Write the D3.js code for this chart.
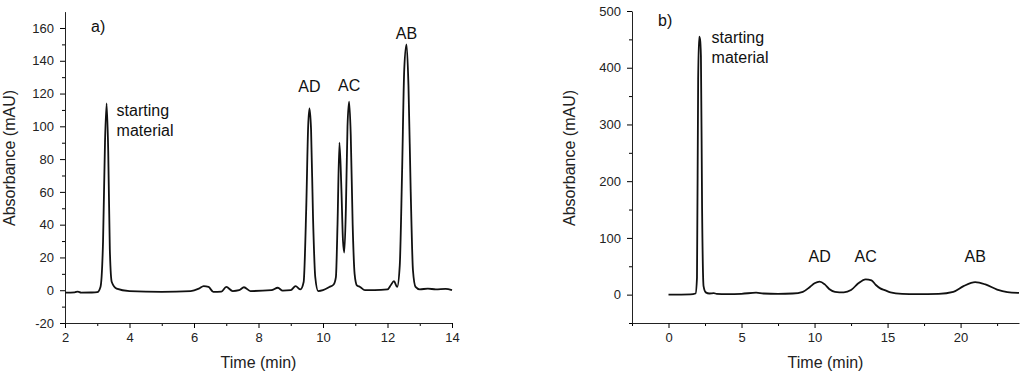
<!DOCTYPE html>
<html>
<head>
<meta charset="utf-8">
<script src="https://cdn.jsdelivr.net/npm/d3@7"></script>
<style>
  body { margin: 0; background: #fff; }
  svg { font-family: "Liberation Sans", Arial, sans-serif; }
  .tick text { font-size: 13px; fill: #222; }
</style>
</head>
<body>
<svg id="chart" width="1024" height="376"></svg>
<script>
// panel a) chromatogram, time (min) and absorbance (mAU)
const timeA = [2.0, 2.3, 2.4, 2.5, 2.8, 3.0, 3.1, 3.18, 3.24, 3.29, 3.34, 3.39, 3.45, 3.6, 4.0, 5.0, 5.9, 6.15, 6.3, 6.45, 6.6, 6.85, 7.0, 7.2, 7.4, 7.55, 7.75, 8.4, 8.6, 8.75, 9.0, 9.15, 9.3, 9.4, 9.48, 9.54, 9.58, 9.63, 9.69, 9.76, 9.85, 10.0, 10.2, 10.33, 10.4, 10.45, 10.51, 10.57, 10.62, 10.66, 10.71, 10.76, 10.81, 10.86, 10.92, 10.98, 11.05, 11.15, 11.3, 11.6, 12.0, 12.1, 12.2, 12.3, 12.38, 12.45, 12.52, 12.59, 12.65, 12.72, 12.79, 12.87, 13.0, 13.25, 13.5, 13.8, 14.0];
const absA  = [-1.5, -1.3, -0.8, -1.5, -1.4, -1.2, 2, 30, 90, 114, 85, 25, 5, 1, -0.5, -1, -0.5, 1, 2.5, 2, -1, -0.8, 2, -0.5, 0, 1.8, -0.5, 0, 1.5, -0.3, 0, 2.5, 0.5, 5, 50, 100, 111, 98, 45, 8, -0.5, 0, 2, 3.5, 8, 40, 90, 62, 30, 23, 50, 100, 115, 95, 40, 10, 3, 2, 0, 0, 0.5, 3, 5.5, 2, 15, 70, 135, 150, 125, 60, 12, 2, 0.5, 1, 0.5, 0.8, 0];

// panel b) chromatogram
const timeB = [0, 1.5, 1.85, 1.95, 2.03, 2.1, 2.16, 2.22, 2.3, 2.4, 2.55, 2.8, 3.1, 3.3, 4.0, 5.0, 6.0, 6.5, 7.5, 8.5, 9.2, 9.7, 10.0, 10.35, 10.7, 11.0, 11.4, 12.0, 12.5, 13.0, 13.5, 13.9, 14.2, 14.5, 14.8, 15.2, 16.0, 17.0, 18.5, 19.5, 20.2, 21.0, 21.7, 22.5, 23.2, 24.0];
const absB  = [0, 0.5, 2, 30, 380, 455, 450, 420, 150, 15, 4, 2, 2.5, 1.5, 1, 1.5, 3.5, 2, 1.5, 2, 5, 14, 20, 23, 18, 10, 5, 4, 8, 20, 27, 25, 17, 11, 8, 4, 1.5, 1, 1.5, 5, 15, 22, 18, 9, 4.5, 3];

const yTicksA = [-20, 0, 20, 40, 60, 80, 100, 120, 140, 160];
const xTicksA = [2, 4, 6, 8, 10, 12, 14];
const yTicksB = [0, 100, 200, 300, 400, 500];
const xTicksB = [0, 5, 10, 15, 20];

const labelsA = [
  { t: 3.29, v: 114, text: ["starting", "material"] },
  { t: 9.58, v: 111, text: ["AD"] },
  { t: 10.81, v: 115, text: ["AC"] },
  { t: 12.59, v: 150, text: ["AB"] }
];
const labelsB = [
  { t: 2.13, v: 455, text: ["starting", "material"] },
  { t: 10.35, v: 23, text: ["AD"] },
  { t: 13.5, v: 27, text: ["AC"] },
  { t: 21.0, v: 22, text: ["AB"] }
];

const svg = d3.select("#chart");
const plainNum = d => String(d);   // keep a plain hyphen for negatives

function drawPanel(o) {
  const g = svg.append("g");
  const x = d3.scaleLinear().domain(o.xDomain).range([o.left, o.right]);
  const y = d3.scaleLinear().domain(o.yDomain).range([o.bottom, o.top]);

  // minor ticks
  g.append("g")
    .attr("transform", `translate(0,${o.bottom})`)
    .call(d3.axisBottom(x).tickValues(o.xMinor).tickSize(3).tickFormat("").tickSizeOuter(0))
    .call(s => s.select(".domain").remove());
  g.append("g")
    .attr("transform", `translate(${o.left},0)`)
    .call(d3.axisLeft(y).tickValues(o.yMinor).tickSize(3).tickFormat("").tickSizeOuter(0))
    .call(s => s.select(".domain").remove());

  // major ticks
  g.append("g")
    .attr("transform", `translate(0,${o.bottom})`)
    .call(d3.axisBottom(x).tickValues(o.xTicks).tickFormat(plainNum).tickSize(5).tickPadding(5).tickSizeOuter(0))
    .call(s => s.select(".domain").attr("stroke", "#222"));
  g.append("g")
    .attr("transform", `translate(${o.left},0)`)
    .call(d3.axisLeft(y).tickValues(o.yTicks).tickFormat(plainNum).tickSize(5).tickPadding(6).tickSizeOuter(0))
    .call(s => s.select(".domain").attr("stroke", "#222"));

  const line = d3.line()
    .x((d, i) => x(o.time[i]))
    .y(d => y(d))
    .curve(d3.curveMonotoneX);

  g.append("path")
    .datum(o.abs)
    .attr("fill", "none")
    .attr("stroke", "#111")
    .attr("stroke-width", 1.8)
    .attr("stroke-linejoin", "round")
    .attr("d", line);

  // axis titles
  g.append("text")
    .attr("x", (o.left + o.right) / 2)
    .attr("y", 368)
    .attr("text-anchor", "middle")
    .style("font-size", "16px")
    .attr("fill", "#222")
    .text("Time (min)");
  g.append("text")
    .attr("transform", `translate(${o.yTitleX},158) rotate(-90)`)
    .attr("text-anchor", "middle")
    .style("font-size", "16px")
    .attr("fill", "#222")
    .text("Absorbance (mAU)");

  g.append("text")
    .attr("x", o.tag[0]).attr("y", o.tag[1])
    .style("font-size", "16px")
    .attr("fill", "#111")
    .text(o.tagText);

  // peak annotations
  o.labels.forEach((d, i) => {
    const t = g.append("text")
      .style("font-size", "16px")
      .attr("fill", "#111");
    if (d.text.length > 1) {
      t.attr("text-anchor", "start");
      d.text.forEach((s, k) => {
        t.append("tspan")
          .attr("x", x(d.t) + o.startDx)
          .attr("y", y(d.v) + o.startDy + k * 20)
          .text(s);
      });
    } else {
      t.attr("text-anchor", "middle")
        .attr("x", x(d.t))
        .attr("y", o.labelY[i])
        .text(d.text[0]);
    }
  });
}

drawPanel({
  time: timeA, abs: absA,
  xDomain: [2, 14], yDomain: [-20, 170],
  left: 65, right: 452, top: 11.6, bottom: 323,
  xTicks: xTicksA, yTicks: yTicksA,
  xMinor: d3.range(3, 14, 2), yMinor: d3.range(-10, 170, 20),
  yTitleX: 15, tag: [91, 32], tagText: "a)",
  labels: labelsA, startDx: 10, startDy: 13,
  labelY: [0, 92, 91, 39]
});

drawPanel({
  time: timeB, abs: absB,
  xDomain: [-2.5, 24], yDomain: [-50, 500],
  left: 632, right: 1019, top: 11, bottom: 323,
  xTicks: xTicksB, yTicks: yTicksB,
  xMinor: [-2.5, 2.5, 7.5, 12.5, 17.5, 22.5], yMinor: d3.range(-50, 500, 100),
  yTitleX: 575, tag: [658, 26], tagText: "b)",
  labels: labelsB, startDx: 12, startDy: 6,
  labelY: [0, 262, 262, 262]
});
</script>
</body>
</html>
